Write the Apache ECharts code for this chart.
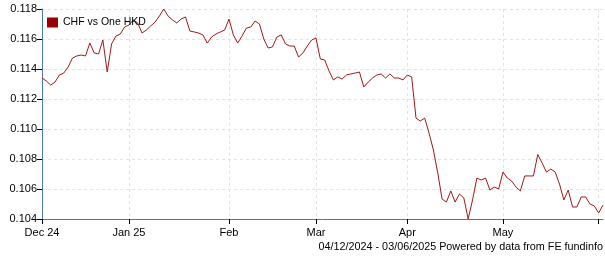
<!DOCTYPE html>
<html><head><meta charset="utf-8">
<script src="https://cdn.jsdelivr.net/npm/echarts@6/dist/echarts.min.js"></script>
<style>html,body{margin:0;padding:0;background:#fff}#c{width:605px;height:260px}</style>
</head><body><div id="c"></div>
<script>
// Trading days per month (weekdays)
const decDays = [4,5,6,9,10,11,12,13,16,17,18,19,20,23,24,25,26,27,30,31];
const janDays = [1,2,3,6,7,8,9,10,13,14,15,16,17,20,21,22,23,24,27,28,29,30,31];
const febDays = [3,4,5,6,7,10,11,12,13,14,17,18,19,20,21,24,25,26,27,28];
const marDays = [3,4,5,6,7,10,11,12,13,14,17,18,19,20,21,24,25,26,27,28,31];
const aprDays = [1,2,3,4,7,8,9,10,11,14,15,16,17,18,21,22,23,24,25,28,29,30];
const mayDays = [1,2,5,6,7,8,9,12,13,14,15,16,19,20,21,22,23,26,27,28,29,30];
const junDays = [2,3];

const seriesName = 'CHF vs One HKD';
const values = [
 0.1134,0.1132,0.11293,0.11313,0.1136,0.11373,0.11413,0.11473,0.11487,0.11493,
 0.11487,0.11573,0.11507,0.1150,0.11593,0.1138,0.11567,0.1162,0.11633,0.1168,
 0.11693,0.11727,0.11707,0.1164,0.1166,0.11687,0.11713,0.11753,0.1180,0.11753,
 0.11727,0.11707,0.11733,0.11747,0.11653,0.11647,0.1164,0.11627,0.11573,0.11613,
 0.11633,0.11647,0.1166,0.11733,0.11627,0.11573,0.1162,0.11673,0.1168,0.1172,
 0.1170,0.1160,0.1154,0.11547,0.11613,0.11627,0.11567,0.11553,0.11553,0.1148,
 0.11507,0.11553,0.11593,0.11607,0.11467,0.1146,0.11387,0.11327,0.11347,0.11333,
 0.1136,0.11367,0.11373,0.1138,0.1128,0.11313,0.1134,0.1136,0.11367,0.1134,
 0.11367,0.1134,0.1134,0.11327,0.1136,0.11347,0.11073,0.11053,0.11073,0.10973,
 0.1086,0.10707,0.10533,0.10513,0.10587,0.10513,0.10567,0.1054,0.1040,0.10527,
 0.10673,0.1066,0.10673,0.10593,0.10613,0.1060,0.10713,0.10673,0.10653,0.10613,
 0.10587,0.10687,0.10687,0.10687,0.1083,0.10773,0.10713,0.10733,0.10713,0.10633,
 0.10527,0.10593,0.1048,0.1048,0.10547,0.10547,0.1050,0.10487,0.1044,0.10493
];
const tickDates = ['2024-12-04','2025-01-01','2025-02-03','2025-03-03','2025-04-01','2025-05-01','2025-06-02'];
const tickLabels = ['Dec 24','Jan 25','Feb','Mar','Apr','May',''];
const footText = '04/12/2024 - 03/06/2025 Powered by data from FE fundinfo';

const pad = d => (d < 10 ? '0' : '') + d;
const categories = [].concat(
  decDays.map(d => '2024-12-' + pad(d)),
  janDays.map(d => '2025-01-' + pad(d)),
  febDays.map(d => '2025-02-' + pad(d)),
  marDays.map(d => '2025-03-' + pad(d)),
  aprDays.map(d => '2025-04-' + pad(d)),
  mayDays.map(d => '2025-05-' + pad(d)),
  junDays.map(d => '2025-06-' + pad(d))
);
const isTick = (i, v) => tickDates.indexOf(categories[i]) >= 0;
const isSplit = (i, v) => i > 0 && tickDates.indexOf(categories[i]) >= 0;

const blue = '#4a78ab';
const chart = echarts.init(document.getElementById('c'), null, {renderer: 'canvas'});
chart.setOption({
  animation: false,
  textStyle: {fontFamily: 'Liberation Sans, Arial, sans-serif'},
  grid: {left: 42, right: 2, top: 9, bottom: 41, containLabel: false},
  legend: {
    left: 42, top: 12, icon: 'rect', itemWidth: 11, itemHeight: 10, itemGap: 5,
    textStyle: {fontSize: 10.5, color: '#000', fontFamily: 'Liberation Sans, Arial, sans-serif'},
    data: [seriesName]
  },
  xAxis: {
    type: 'category', data: categories, boundaryGap: false,
    axisLine: {lineStyle: {color: blue, width: 1}},
    axisTick: {show: true, interval: isTick, length: 5, lineStyle: {color: '#000'}},
    axisLabel: {interval: isTick, color: '#000', fontSize: 11, margin: 8,
      formatter: v => { const k = tickDates.indexOf(v); return k >= 0 ? tickLabels[k] : ''; }},
    splitLine: {show: true, interval: isSplit, lineStyle: {color: '#e2e2e2', type: [3, 3]}}
  },
  yAxis: {
    type: 'value', min: 0.104, max: 0.118, interval: 0.002,
    axisLine: {show: true, lineStyle: {color: blue, width: 1}},
    axisTick: {show: true, length: 5, lineStyle: {color: '#000'}},
    axisLabel: {color: '#000', fontSize: 11, margin: 5, formatter: v => v.toFixed(3)},
    splitLine: {show: true, lineStyle: {color: '#e2e2e2', type: [3, 3]}}
  },
  series: [{
    name: seriesName, type: 'line', data: values, showSymbol: false, symbol: 'none',
    itemStyle: {color: '#990000'},
    lineStyle: {color: '#a01818', width: 1}
  }],
  graphic: [{
    type: 'text', right: 2, top: 242,
    style: {text: footText, fill: '#000', font: '10.8px "Liberation Sans", Arial, sans-serif'}
  }]
});
</script></body></html>
